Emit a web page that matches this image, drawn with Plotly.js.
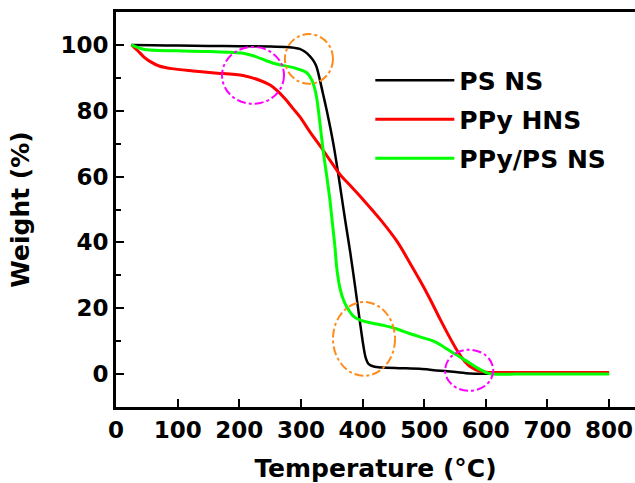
<!DOCTYPE html>
<html>
<head>
<meta charset="utf-8">
<script src="https://cdn.plot.ly/plotly-3.0.1.min.js"></script>
<style>html,body{margin:0;padding:0;background:#fff;overflow:hidden;}#chart{width:635px;height:483px;}</style>
</head>
<body>
<div id="chart"></div>
<script>
// Temperature (°C) / Weight (%) readings
const psT = [25,60,100,150,200,250,280,290,298,306,314,320,325,330,336,342,348,354,360,366,372,380,388,396,401,405,410,418,432,460,493,520,547,574,600,700,800];
const psW = [100,99.9,99.8,99.7,99.6,99.5,99.3,99.1,98.8,98.0,96.7,95.3,93.5,90,85,80,74.5,68.5,61.5,54,46.5,37,26.5,15.5,9,5,3,2.3,2.0,1.8,1.6,1.1,0.7,0.2,0.1,0.1,0.1];

const ppyT = [25,35,45,55,70,90,125,160,206,234,250,261,275,288,299,315,336,347,364,380,401,430,456,477,493,510,526,540,552,563,575,590,605,650,700,800];
const ppyW = [100,98.3,96.4,95,93.6,92.8,92.1,91.5,90.7,89.2,87.8,86.2,83.5,80.5,78,73.5,68,65,60.5,57.3,53,46.7,40.3,33.7,28.5,22.6,16.6,11.6,7.6,4.5,2.2,0.9,0.5,0.5,0.5,0.5];

const compT = [25,44,98,152,206,223,244,260,288,309,317,322,326,331,336,342,347,351,355,358,363,369,375,385,396,420,434,456,475,493,515,526,542,558,575,586,597,607,650,700,800];
const compW = [100,98.7,98.2,98.0,97.5,96.7,95.2,94.2,93.1,91.6,89.6,87,83.5,76,68,60,53,46,39,32.5,26.4,22.5,20.2,17.6,16.4,15.3,14.8,13.7,12.4,11.3,10,8.9,7,5.2,3.2,1.9,0.8,0.1,0,0,0];

const seriesNames = ['PS NS', 'PPy HNS', 'PPy/PS NS'];
const xTickVals = [0,100,200,300,400,500,600,700,800];
const yTickVals = [0,20,40,60,80,100];

// highlight circles: [x0, x1, y0, y1, colour]
const callouts = [
  [274, 352, 88.2, 103.3, '#FF8C1A'],
  [172, 272.6, 82.1, 99.4, '#FF00FF'],
  [352, 452.7, -0.5, 21.9, '#FF8C1A'],
  [534, 612, -5.1, 7.4, '#FF00FF']
];

const boldFont = {family: 'DejaVu Sans', weight: 'bold', color: '#000'};

const traces = [
  {x: psT, y: psW, name: seriesNames[0], legendgroup: 'a', mode: 'lines',
   line: {color: '#000000', width: 2.5, shape: 'spline', smoothing: 0.8}},
  {x: ppyT, y: ppyW, name: seriesNames[1], legendgroup: 'b', mode: 'lines',
   line: {color: '#FF0000', width: 3, shape: 'spline', smoothing: 0.8}},
  {x: compT, y: compW, name: seriesNames[2], legendgroup: 'c', mode: 'lines',
   line: {color: '#00FF00', width: 3, shape: 'spline', smoothing: 0.8}}
];

const layout = {
  width: 635, height: 483,
  margin: {l: 116, r: 0, t: 12, b: 76},
  paper_bgcolor: '#fff', plot_bgcolor: '#fff',
  showlegend: true,
  legend: {
    x: 0.49, y: 0.885, xanchor: 'left', yanchor: 'top',
    bgcolor: 'rgba(0,0,0,0)', borderwidth: 0,
    font: Object.assign({size: 25}, boldFont),
    itemwidth: 79, tracegroupgap: 3.5
  },
  xaxis: {
    range: [0, 842], tickvals: xTickVals, ticktext: xTickVals.map(String),
    ticks: 'inside', ticklen: 8, tickwidth: 2, tickcolor: '#000',
    showline: true, linewidth: 3, linecolor: '#000', mirror: true,
    showgrid: false, zeroline: false,
    tickfont: Object.assign({size: 23}, boldFont),
    title: {text: 'Temperature (°C)', font: Object.assign({size: 25}, boldFont), standoff: 20}
  },
  yaxis: {
    range: [-10, 110], tickvals: yTickVals, ticktext: yTickVals.map(String),
    ticks: 'inside', ticklen: 8, tickwidth: 2, tickcolor: '#000',
    minor: {dtick: 10, tick0: 0, ticks: 'inside', ticklen: 5, tickwidth: 2, tickcolor: '#000', showgrid: false},
    showline: true, linewidth: 3, linecolor: '#000', mirror: false,
    showgrid: false, zeroline: false,
    tickfont: Object.assign({size: 23}, boldFont),
    title: {text: 'Weight (%)', font: Object.assign({size: 25}, boldFont), standoff: 24}
  },
  shapes: callouts.map(c => ({
    type: 'circle', xref: 'x', yref: 'y',
    x0: c[0], x1: c[1], y0: c[2], y1: c[3],
    line: {color: c[4], width: 2, dash: 'dashdot'}
  }))
};

Plotly.newPlot('chart', traces, layout, {staticPlot: true, displayModeBar: false});
</script>
</body>
</html>
